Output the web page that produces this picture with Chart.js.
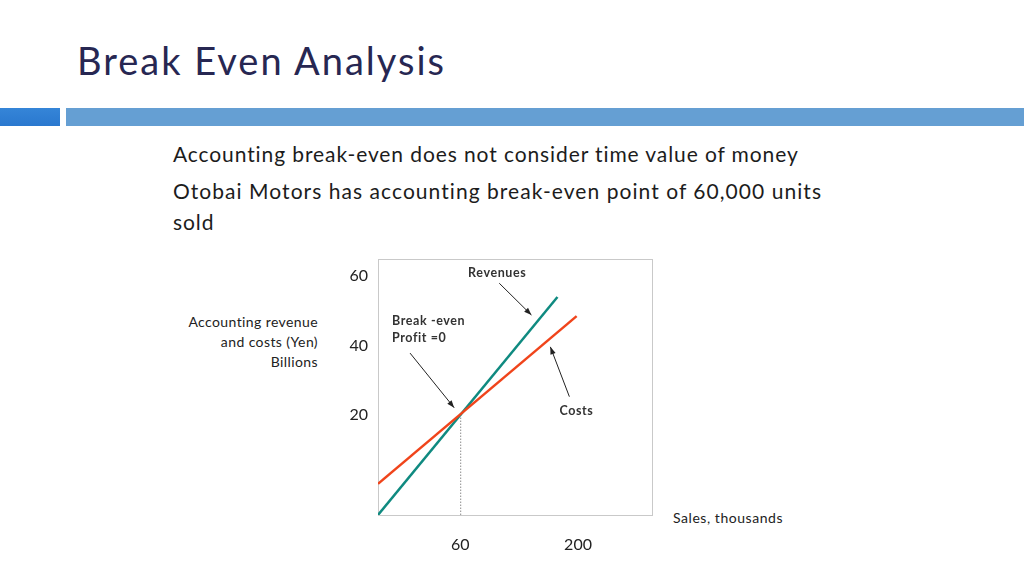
<!DOCTYPE html>
<html>
<head>
<meta charset="utf-8">
<script src="https://cdn.jsdelivr.net/npm/chart.js@4/dist/chart.umd.min.js"></script>
<style>
  html, body { margin: 0; padding: 0; background: #fff; }
  body { width: 1024px; height: 576px; position: relative; overflow: hidden; font-family: "Lato", "Open Sans", sans-serif; }
  .title { position: absolute; left: 77px; top: 37px; font-size: 38px; color: #272752; letter-spacing: 2px; }
  .bar1 { position: absolute; left: 0; top: 108px; width: 60px; height: 18px; background: linear-gradient(#3585d8, #2a78cf); }
  .bar2 { position: absolute; left: 66px; top: 108px; width: 958px; height: 18px; background: #659fd3; }
  .txt { position: absolute; left: 173px; font-size: 21px; color: #1c1c1c; white-space: nowrap; letter-spacing: 0.9px; }
  .ylab { position: absolute; right: 706px; top: 312px; font-size: 14px; line-height: 20px; color: #222; text-align: right; letter-spacing: 0.4px; }
  .xlab { position: absolute; left: 673px; top: 509px; font-size: 14px; color: #222; letter-spacing: 0.55px; }
  #wrap { position: absolute; left: 0; top: 0; width: 1024px; height: 576px; }
</style>
</head>
<body>
<div class="title">Break Even Analysis</div>
<div class="bar1"></div>
<div class="bar2"></div>
<div class="txt" style="top:141px">Accounting break-even does not consider time value of money</div>
<div class="txt" style="top:178px; letter-spacing:1.05px">Otobai Motors has accounting break-even point of 60,000 units</div>
<div class="txt" style="top:209px">sold</div>
<div class="ylab">Accounting revenue<br>and costs (Yen)<br>Billions</div>
<div class="xlab">Sales, thousands</div>
<div id="wrap"><canvas id="c"></canvas></div>
<script>
// schematic data (not to scale, like the slide)
const revenueLine = [{ x: 0, y: -9 }, { x: 131, y: 54 }];
const costLine = [{ x: 0, y: 0 }, { x: 145, y: 48.5 }];
const breakEven = { x: 60, y: 20 };

const yTickValues = [20, 40, 60];
const xTickValues = [60, 146];
const xTickLabels = ["60", "200"];

// text + arrows (data units)
const notes = [
  { lines: ["Revenues"], x: 87, y: 61, align: "center", from: [88.5, 58], to: [112, 48.8] },
  { lines: ["Break -even", "Profit =0"], x: 10.2, y: 47.1, align: "left", from: [23.4, 37.8], to: [55.6, 22] },
  { lines: ["Costs"], x: 132.4, y: 21.2, align: "left", from: [139.7, 25.2], to: [125.8, 39.6] }
];

const boxPlugin = {
  id: "box",
  beforeDatasetsDraw(chart) {
    const { ctx, chartArea: a, scales: { x, y } } = chart;
    ctx.save();
    ctx.strokeStyle = "#c9c9c9";
    ctx.lineWidth = 1;
    ctx.strokeRect(a.left + 0.5, a.top + 0.5, a.width, a.height);
    // dotted drop line at break-even
    ctx.strokeStyle = "#555";
    ctx.setLineDash([1, 2]);
    ctx.beginPath();
    ctx.moveTo(x.getPixelForValue(breakEven.x) + 0.5, y.getPixelForValue(breakEven.y));
    ctx.lineTo(x.getPixelForValue(breakEven.x) + 0.5, a.bottom);
    ctx.stroke();
    ctx.restore();
  },
  afterDatasetsDraw(chart) {
    const { ctx, scales: { x, y } } = chart;
    ctx.save();
    ctx.font = "bold 12.5px Lato, sans-serif";
    ctx.letterSpacing = "0.6px";
    ctx.fillStyle = "#333";
    ctx.textBaseline = "middle";
    notes.forEach(n => {
      ctx.textAlign = n.align;
      n.lines.forEach((t, i) => {
        ctx.fillText(t, x.getPixelForValue(n.x), y.getPixelForValue(n.y) + i * 17);
      });
      const x1 = x.getPixelForValue(n.from[0]), y1 = y.getPixelForValue(n.from[1]);
      const x2 = x.getPixelForValue(n.to[0]), y2 = y.getPixelForValue(n.to[1]);
      ctx.strokeStyle = "#222";
      ctx.lineWidth = 1;
      ctx.beginPath();
      ctx.moveTo(x1, y1);
      ctx.lineTo(x2, y2);
      ctx.stroke();
      const ang = Math.atan2(y2 - y1, x2 - x1);
      ctx.beginPath();
      ctx.moveTo(x2, y2);
      ctx.lineTo(x2 - 8 * Math.cos(ang - 0.35), y2 - 8 * Math.sin(ang - 0.35));
      ctx.lineTo(x2 - 8 * Math.cos(ang + 0.35), y2 - 8 * Math.sin(ang + 0.35));
      ctx.closePath();
      ctx.fillStyle = "#222";
      ctx.fill();
      ctx.fillStyle = "#333";
    });
    ctx.restore();
  }
};

new Chart(document.getElementById("c"), {
  type: "line",
  data: {
    datasets: [
      { label: "Costs", data: costLine, borderColor: "#f0441b", borderWidth: 2.5, pointRadius: 0 },
      { label: "Revenues", data: revenueLine, borderColor: "#0f8a80", borderWidth: 2.5, pointRadius: 0 }
    ]
  },
  options: {
    responsive: true,
    maintainAspectRatio: false,
    animation: false,
    layout: { padding: { left: 338, top: 259, right: 372, bottom: 16 } },
    plugins: { legend: { display: false }, tooltip: { enabled: false } },
    scales: {
      x: {
        type: "linear",
        min: 0,
        max: 200,
        grid: { display: false, drawTicks: false },
        border: { display: false },
        afterBuildTicks: s => { s.ticks = xTickValues.map(v => ({ value: v })); },
        afterFit: s => { s.height = 45; },
        ticks: {
          padding: 20,
          color: "#222",
          font: { size: 16, family: "Lato" },
          callback: (v) => xTickLabels[xTickValues.indexOf(v)]
        }
      },
      y: {
        min: -9,
        max: 65,
        grid: { display: false, drawTicks: false },
        border: { display: false },
        afterBuildTicks: s => { s.ticks = yTickValues.map(v => ({ value: v })); },
        afterFit: s => { s.width = 40; },
        ticks: { padding: 10, color: "#222", font: { size: 16, family: "Lato" } }
      }
    }
  },
  plugins: [boxPlugin]
});
</script>
</body>
</html>
